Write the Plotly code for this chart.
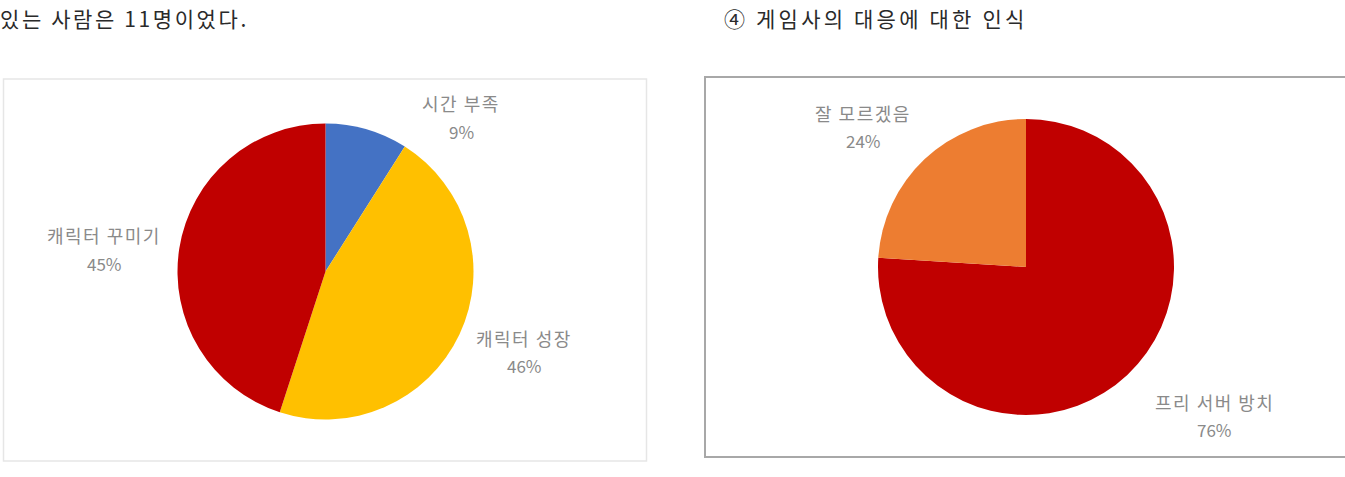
import plotly.graph_objects as go

# ---- data ----
left_labels = ["시간 부족", "캐릭터 성장", "캐릭터 꾸미기"]
left_values = [9, 46, 45]
right_labels = ["프리 서버 방치", "잘 모르겠음"]
right_values = [76, 24]
header_left = "있는 사람은 11명이었다."
header_right = "④ 게임사의 대응에 대한 인식"

# ---- styles / layout ----
W, H = 1345, 477
left_colors = ["#4472C4", "#FFC000", "#C00000"]
right_colors = ["#C00000", "#ED7D31"]
label_color = "#8a8a8a"
FONT = "Noto Sans CJK KR"

def dom(cx, cy, r):
    return dict(x=[(cx - r) / W, (cx + r) / W],
                y=[(H - cy - r) / H, (H - cy + r) / H])

def spaced(text, px):
    return f'<span style="letter-spacing:{px}px">{text}</span>'

fig = go.Figure()
fig.add_trace(go.Pie(labels=left_labels, values=left_values, sort=False,
                     direction="clockwise", rotation=0,
                     marker=dict(colors=left_colors, line=dict(width=0)),
                     textinfo="none", hoverinfo="label+percent",
                     domain=dom(325.5, 271.5, 148), showlegend=False))
fig.add_trace(go.Pie(labels=right_labels, values=right_values, sort=False,
                     direction="clockwise", rotation=0,
                     marker=dict(colors=right_colors, line=dict(width=0)),
                     textinfo="none", hoverinfo="label+percent",
                     domain=dom(1026, 267, 148), showlegend=False))

# label positions (pixel centers of name line, percent line)
left_pos = [(461, 103, 131), (524, 338, 365), (104, 235, 263)]
right_pos = [(1214, 402, 429), (863, 113, 141)]

annos = []
def add_labels(labels, values, pos):
    for lab, v, (x, y1, y2) in zip(labels, values, pos):
        annos.append(dict(text=spaced(lab, 1.5), x=x / W, y=1 - y1 / H, xref="paper", yref="paper",
                          showarrow=False, xanchor="center", yanchor="middle",
                          font=dict(family=FONT, size=18, color=label_color)))
        annos.append(dict(text=f"{v}%", x=x / W, y=1 - y2 / H, xref="paper", yref="paper",
                          showarrow=False, xanchor="center", yanchor="middle",
                          font=dict(family=FONT, size=17, color=label_color)))

add_labels(left_labels, left_values, left_pos)
add_labels(right_labels, right_values, right_pos)

annos.append(dict(text=spaced(header_left, 2.6), x=-2 / W, y=1 - 18 / H, xref="paper", yref="paper",
                  showarrow=False, xanchor="left", yanchor="middle",
                  font=dict(family=FONT, size=21, color="#2a2a2a")))
annos.append(dict(text=spaced(header_right, 3.2), x=722 / W, y=1 - 18 / H, xref="paper", yref="paper",
                  showarrow=False, xanchor="left", yanchor="middle",
                  font=dict(family=FONT, size=21, color="#2a2a2a")))

shapes = [
    dict(type="rect", xref="paper", yref="paper",
         x0=3.5 / W, x1=646.5 / W, y0=1 - 461 / H, y1=1 - 79 / H,
         line=dict(color="#e6e6e6", width=1.5), fillcolor="rgba(0,0,0,0)"),
    dict(type="rect", xref="paper", yref="paper",
         x0=705 / W, x1=1350 / W, y0=1 - 457 / H, y1=1 - 77 / H,
         line=dict(color="#a8a8a8", width=2), fillcolor="rgba(0,0,0,0)"),
]

fig.update_layout(width=W, height=H, margin=dict(l=0, r=0, t=0, b=0),
                  paper_bgcolor="white", plot_bgcolor="white",
                  annotations=annos, shapes=shapes, showlegend=False)
fig.write_html("out.html")
